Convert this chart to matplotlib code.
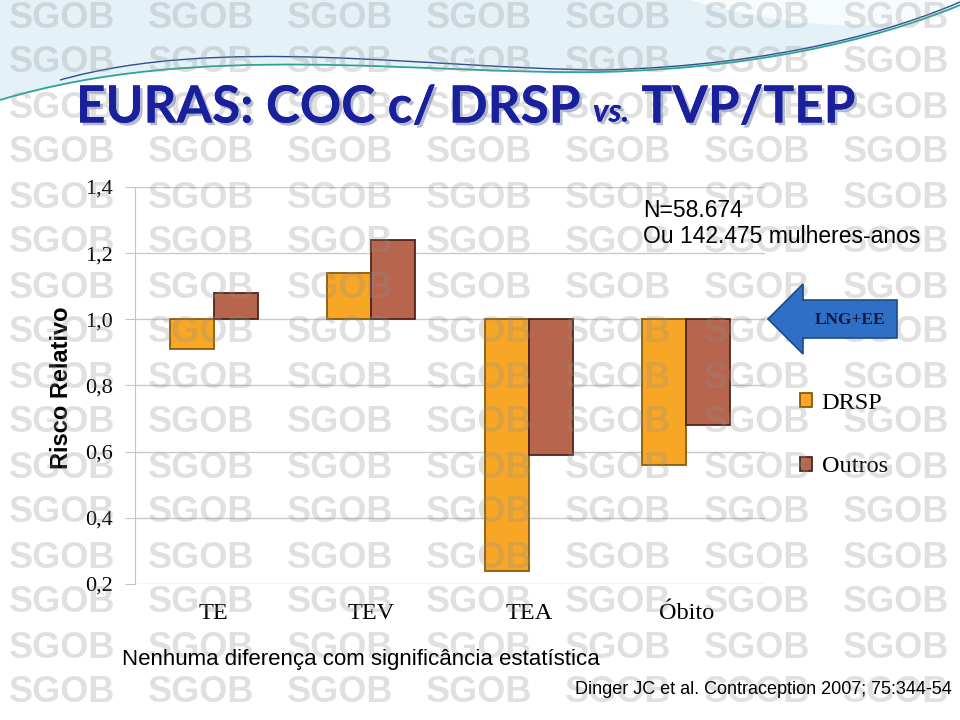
import matplotlib
matplotlib.use('Agg')
import matplotlib.pyplot as plt
import numpy as np
from matplotlib.patches import Polygon, PathPatch
from matplotlib.path import Path
import matplotlib.patheffects as pe

categories = ['TE', 'TEV', 'TEA', 'Óbito']
series_names = ['DRSP', 'Outros']
drsp = [0.91, 1.14, 0.24, 0.56]
outros = [1.08, 1.24, 0.59, 0.68]
yticks = [0.2, 0.4, 0.6, 0.8, 1.0, 1.2, 1.4]
ytick_labels = ['0,2', '0,4', '0,6', '0,8', '1,0', '1,2', '1,4']
baseline = 1.0

W, H = 960, 720
fig = plt.figure(figsize=(9.6, 7.2), dpi=100)
fig.patch.set_facecolor('white')


def fx(px):
    return px / W


def fy(py):
    return 1 - py / H


# ---------- decorative background ----------
bg = fig.add_axes([0, 0, 1, 1], zorder=-10)
bg.set_xlim(0, W)
bg.set_ylim(H, 0)
bg.axis('off')

top_fill = Path([(0, 0), (0, 100), (200, 40), (420, 75), (600, 72), (780, 68), (900, 30), (960, 0), (0, 0)],
                [Path.MOVETO, Path.LINETO, Path.CURVE4, Path.CURVE4, Path.CURVE4,
                 Path.CURVE4, Path.CURVE4, Path.CURVE4, Path.CLOSEPOLY])
bg.add_patch(PathPatch(top_fill, facecolor='#e4f2f8', edgecolor='none'))
swoosh = Path([(690, 0), (760, 20), (860, 40), (960, 10), (960, 0), (690, 0)],
              [Path.MOVETO, Path.CURVE4, Path.CURVE4, Path.CURVE4, Path.LINETO, Path.CLOSEPOLY])
bg.add_patch(PathPatch(swoosh, facecolor='#f6fbfd', edgecolor='none'))
teal = Path([(0, 100), (200, 40), (420, 75), (600, 72), (780, 68), (900, 30), (960, 5)],
            [Path.MOVETO, Path.CURVE4, Path.CURVE4, Path.CURVE4, Path.CURVE4, Path.CURVE4, Path.CURVE4])
bg.add_patch(PathPatch(teal, facecolor='none', edgecolor='#2aa39a', lw=1.3))
navy = Path([(60, 80), (220, 35), (420, 68), (600, 70), (780, 66), (900, 28), (960, 2)],
            [Path.MOVETO, Path.CURVE4, Path.CURVE4, Path.CURVE4, Path.CURVE4, Path.CURVE4, Path.CURVE4])
bg.add_patch(PathPatch(navy, facecolor='none', edgecolor='#2c4f8f', lw=1.0))

# ---------- main chart ----------
ax = fig.add_axes([fx(135), fy(584), fx(765) - fx(135), (584 - 187) / H])
ax.set_facecolor('none')
x = np.arange(len(categories))
w = 0.28
d = np.array(drsp) - baseline
o = np.array(outros) - baseline
b1 = ax.bar(x - w / 2, d, width=w, bottom=baseline, color='#F7A626',
            edgecolor='#8a5a0c', linewidth=1.3, label=series_names[0], zorder=3)
b2 = ax.bar(x + w / 2, o, width=w, bottom=baseline, color='#B8654E',
            edgecolor='#4e2518', linewidth=1.3, label=series_names[1], zorder=3)

ax.set_xlim(-0.5, len(categories) - 0.5)
ax.set_ylim(0.2, 1.4)
ax.set_yticks(yticks)
ax.set_yticklabels(ytick_labels, fontsize=16, family='Liberation Serif')
ax.set_xticks(x)
ax.set_xticklabels(categories, fontsize=17.5, family='Liberation Serif')
ax.tick_params(axis='x', length=0, pad=14)
ax.tick_params(axis='y', length=7, color='#c4c4c4', pad=9)
ax.yaxis.grid(True, color='#c9c9c9', lw=1.0, zorder=0)
ax.set_axisbelow(True)
for s in ['top', 'right', 'bottom']:
    ax.spines[s].set_visible(False)
ax.spines['left'].set_color('#c4c4c4')

leg = ax.legend(handles=[b1, b2], loc='center left',
                bbox_to_anchor=(fx(778), fy(435)), bbox_transform=fig.transFigure,
                frameon=False, handlelength=0.5, handleheight=0.5, handletextpad=0.4,
                labelspacing=1.75, prop={'family': 'Liberation Serif', 'size': 17.5})

# ---------- texts ----------
fig.text(fx(62), fy(388), 'Risco Relativo', rotation=90, ha='center', va='center',
         fontsize=17, weight='bold', family='Liberation Sans', color='black')
fig.text(fx(643), fy(210), 'N=58.674', ha='left', va='center', fontsize=16.5,
         family='Liberation Sans', zorder=6)
fig.text(fx(643), fy(237), 'Ou 142.475 mulheres-anos', ha='left', va='center', fontsize=16.5,
         family='Liberation Sans', zorder=6)
fig.text(fx(122), fy(659), 'Nenhuma diferença com significância estatística', ha='left', va='center',
         fontsize=16, family='Liberation Sans', zorder=6)
fig.text(fx(952), fy(690), 'Dinger JC et al. Contraception 2007; 75:344-54', ha='right', va='center',
         fontsize=13, family='Liberation Sans', zorder=6)

# arrow LNG+EE
arrow_pts = [(768, 319), (803, 284), (803, 300), (897, 300), (897, 338), (803, 338), (803, 354)]
arr = Polygon([(fx(px), fy(py)) for px, py in arrow_pts], closed=True, transform=fig.transFigure,
              facecolor='#2f6fc6', edgecolor='#1d4a8a', lw=1.2, zorder=5)
fig.patches.append(arr)
fig.text(fx(850), fy(320), 'LNG+EE', ha='center', va='center', fontsize=12.5, weight='bold',
         family='Liberation Serif', color='#0e1a3c', zorder=7)

# watermark
for ry in range(18, 700, 45):
    for cx in range(62, 960, 139):
        fig.text(fx(cx), fy(ry), 'SGOB', ha='center', va='center', fontsize=26, weight='bold',
                 family='Liberation Sans', color='#909090', alpha=0.27, zorder=4)

# title in pieces, scaled to span the reference width
shadow = [pe.withSimplePatchShadow(offset=(2, -2), shadow_rgbFace='#7f8fb0', alpha=0.6), pe.Normal()]
title_color = '#1a1f9c'
tfam = ['Lato', 'Liberation Sans']


def draw_title(size):
    r = fig.canvas.get_renderer()
    t1 = fig.text(fx(76), fy(108), 'EURAS: COC c/ DRSP ', ha='left', va='center', fontsize=size,
                  weight='bold', family=tfam, color=title_color, zorder=8, path_effects=shadow)
    bb = t1.get_window_extent(r)
    t2 = fig.text(bb.x1 / W, fy(112), 'vs.', ha='left', va='center', fontsize=size * 0.62,
                  style='italic', weight='bold', family=tfam, color=title_color, zorder=8,
                  path_effects=shadow)
    bb2 = t2.get_window_extent(r)
    t3 = fig.text(bb2.x1 / W, fy(108), ' TVP/TEP', ha='left', va='center', fontsize=size,
                  weight='bold', family=tfam, color=title_color, zorder=8, path_effects=shadow)
    bb3 = t3.get_window_extent(r)
    return [t1, t2, t3], bb3.x1


fig.canvas.draw()
size = 40
texts, right = draw_title(size)
for t in texts:
    t.remove()
size = size * (855 - 76) / (right - 76)
draw_title(size)

fig.savefig('out.png', dpi=100)
